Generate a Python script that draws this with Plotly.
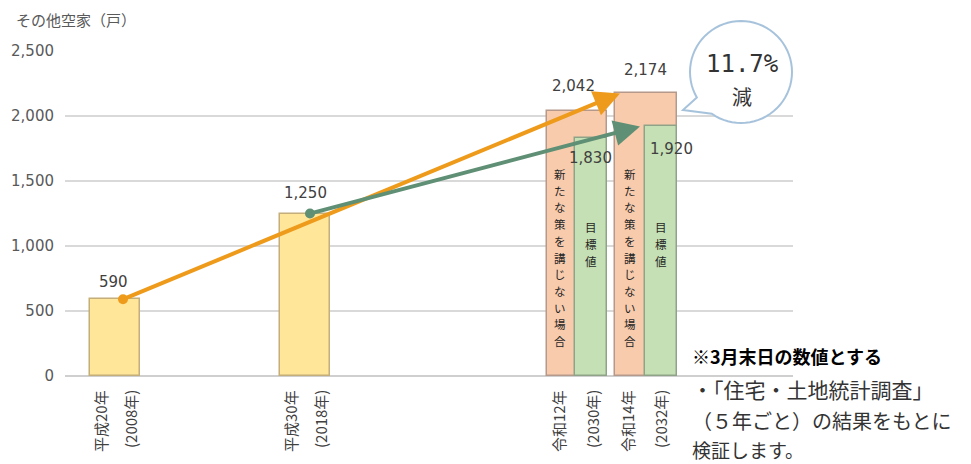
import math
import plotly.graph_objects as go

# ---- data -------------------------------------------------------------
era_labels = ["平成20年", "平成30年", "令和12年", "令和14年"]
year_labels = ["(2008年)", "(2018年)", "(2030年)", "(2032年)"]
actual_values = [590, 1250]            # 平成20年, 平成30年
no_action_values = [2042, 2174]        # 新たな策を講じない場合
target_values = [1830, 1920]           # 目標値
y_ticks = [0, 500, 1000, 1500, 2000, 2500]
y_tick_text = ["0", "500", "1,000", "1,500", "2,000", "2,500"]
reduction_text = "11.7%"

# ---- layout constants -------------------------------------------------
W, H = 971, 464
ML, MR, MT, MB = 65, 178, 51, 88
PW, PH = W - ML - MR, H - MT - MB          # plot area in px; x axis uses px units
actual_x = [50, 240]                        # bar centres on the x axis
no_action_x = [512, 581]
no_action_w = [60, 62]
target_x = [526, 596]
target_w = 32

NUM_FONT = "DejaVu Sans, Noto Sans CJK JP"
JP_FONT = "Noto Sans CJK JP, DejaVu Sans"


def px_x(px):
    """horizontal page pixel -> paper fraction"""
    return (px - ML) / PW


def px_y(py):
    """vertical page pixel -> paper fraction"""
    return (MT + PH - py) / PH


fig = go.Figure()

fig.add_trace(go.Bar(
    x=actual_x, y=actual_values, width=50,
    marker=dict(color="#FFE699", line=dict(color="#C4AE7A", width=1.5)),
    hoverinfo="skip", showlegend=False))
fig.add_trace(go.Bar(
    x=no_action_x, y=no_action_values, width=no_action_w,
    marker=dict(color="#F8CBAD", line=dict(color="#B59A8C", width=1.5)),
    hoverinfo="skip", showlegend=False))
fig.add_trace(go.Bar(
    x=target_x, y=target_values, width=target_w,
    marker=dict(color="#C5E0B4", line=dict(color="#8FA388", width=1.5)),
    hoverinfo="skip", showlegend=False))

ORANGE = "#EE9B1C"
TEAL = "#5F8F74"

# start dots of the two trend arrows
fig.add_trace(go.Scatter(
    x=[actual_x[0] + 8], y=[actual_values[0]], mode="markers",
    marker=dict(color=ORANGE, size=10), hoverinfo="skip", showlegend=False))
fig.add_trace(go.Scatter(
    x=[actual_x[1] + 5], y=[actual_values[1]], mode="markers",
    marker=dict(color=TEAL, size=10), hoverinfo="skip", showlegend=False))

annotations = []

# trend arrows
annotations.append(dict(
    x=no_action_x[1] - 26, y=no_action_values[1], xref="x", yref="y",
    ax=actual_x[0] + 8, ay=actual_values[0], axref="x", ayref="y",
    text="", showarrow=True, arrowhead=2, arrowsize=1.3, arrowwidth=4,
    arrowcolor=ORANGE, standoff=0, startstandoff=0))
annotations.append(dict(
    x=target_x[1] - 21, y=target_values[1], xref="x", yref="y",
    ax=actual_x[1] + 5, ay=actual_values[1], axref="x", ayref="y",
    text="", showarrow=True, arrowhead=2, arrowsize=1.3, arrowwidth=4,
    arrowcolor=TEAL, standoff=0, startstandoff=0))


# value labels
def value_label(x, y, shift, dx=0):
    annotations.append(dict(
        x=x, y=y, xref="x", yref="y", text=f"{y:,}", showarrow=False,
        xanchor="center", yanchor="middle", yshift=shift, xshift=dx,
        font=dict(family=NUM_FONT, size=15, color="#404040")))


value_label(actual_x[0], actual_values[0], 17, -2)
value_label(actual_x[1], actual_values[1], 21)
value_label(no_action_x[0], no_action_values[0], 25, -4)
value_label(no_action_x[1], no_action_values[1], 23, -1)
value_label(target_x[0], target_values[0], -20, -1)
value_label(target_x[1], target_values[1], -23, 10)


# vertical captions inside the 2030 / 2032 bars, one glyph per row
def vertical(text, cx, top, pitch=16.7, size=11.5):
    for k, ch in enumerate(text):
        annotations.append(dict(
            x=px_x(cx), y=px_y(top + k * pitch), xref="paper", yref="paper",
            text=ch, showarrow=False, xanchor="center", yanchor="middle",
            borderpad=0,
            font=dict(family=JP_FONT, size=size, color="#262626")))


for cx in (560, 630):
    vertical("新たな策を講じない場合", cx, 174)
for cx in (591, 661):
    vertical("目標値", cx, 227, pitch=17)

# rotated category labels under the axis
era_px = [100, 290, 558, 627]
year_px = [130, 320, 592, 660]
for i in range(4):
    for txt, xp in ((era_labels[i], era_px[i]), (year_labels[i], year_px[i])):
        annotations.append(dict(
            x=px_x(xp), y=px_y(388), xref="paper", yref="paper", text=txt,
            textangle=-90, showarrow=False, xanchor="center", yanchor="top",
            font=dict(family=JP_FONT, size=15, color="#404040")))

# axis title
annotations.append(dict(
    x=px_x(14), y=px_y(19), xref="paper", yref="paper",
    text="その他空家（戸）", showarrow=False, xanchor="left", yanchor="middle",
    font=dict(family=JP_FONT, size=15, color="#595959")))

# speech bubble with the reduction rate
cx, cy, r = 741, 72, 51
pts = []
deg = 150
while deg <= 485:
    a = math.radians(deg)
    pts.append((cx + r * math.cos(a), cy + r * math.sin(a)))
    deg += 5
pts.append((cx + r * math.cos(math.radians(485)), cy + r * math.sin(math.radians(485))))
pts.append((683, 110))
path = "M " + " L ".join(f"{px_x(x):.5f},{px_y(y):.5f}" for x, y in pts) + " Z"
shapes = [dict(type="path", path=path, xref="paper", yref="paper",
               fillcolor="white", line=dict(color="#A7C3DC", width=2), layer="above")]

annotations.append(dict(
    x=px_x(742), y=px_y(64), xref="paper", yref="paper", text=reduction_text,
    showarrow=False, xanchor="center", yanchor="middle",
    font=dict(family="DejaVu Sans Mono, Noto Sans CJK JP", size=24, color="#333333")))
annotations.append(dict(
    x=px_x(742), y=px_y(97), xref="paper", yref="paper", text="減",
    showarrow=False, xanchor="center", yanchor="middle",
    font=dict(family=JP_FONT, size=20, color="#333333")))

# notes at the lower right
annotations.append(dict(
    x=px_x(690), y=px_y(356), xref="paper", yref="paper",
    text="<b>※3月末日の数値とする</b>", showarrow=False,
    xanchor="left", yanchor="middle",
    font=dict(family=JP_FONT, size=18, color="#000000")))
for txt, yy, sz in (("・「住宅・土地統計調査」", 389, 21),
                    ("（５年ごと）の結果をもとに", 420, 20),
                    ("検証します。", 449, 19)):
    annotations.append(dict(
        x=px_x(690), y=px_y(yy), xref="paper", yref="paper", text=txt,
        showarrow=False, xanchor="left", yanchor="middle",
        font=dict(family=JP_FONT, size=sz, color="#333333")))

fig.update_layout(
    width=W, height=H,
    margin=dict(l=ML, r=MR, t=MT, b=MB, pad=0),
    paper_bgcolor="white", plot_bgcolor="white",
    barmode="overlay", bargap=0,
    xaxis=dict(range=[0, PW], showgrid=False, zeroline=False,
               showticklabels=False, ticks="", fixedrange=True),
    yaxis=dict(range=[0, 2500], tickvals=y_ticks, ticktext=y_tick_text,
               showgrid=True, gridcolor="#D9D9D9", gridwidth=1.5,
               zeroline=True, zerolinecolor="#CFCFCF", zerolinewidth=2,
               ticks="", ticklabelstandoff=10,
               tickfont=dict(family=NUM_FONT, size=15, color="#595959")),
    shapes=shapes,
    annotations=annotations,
)

fig.write_html("out.html")
